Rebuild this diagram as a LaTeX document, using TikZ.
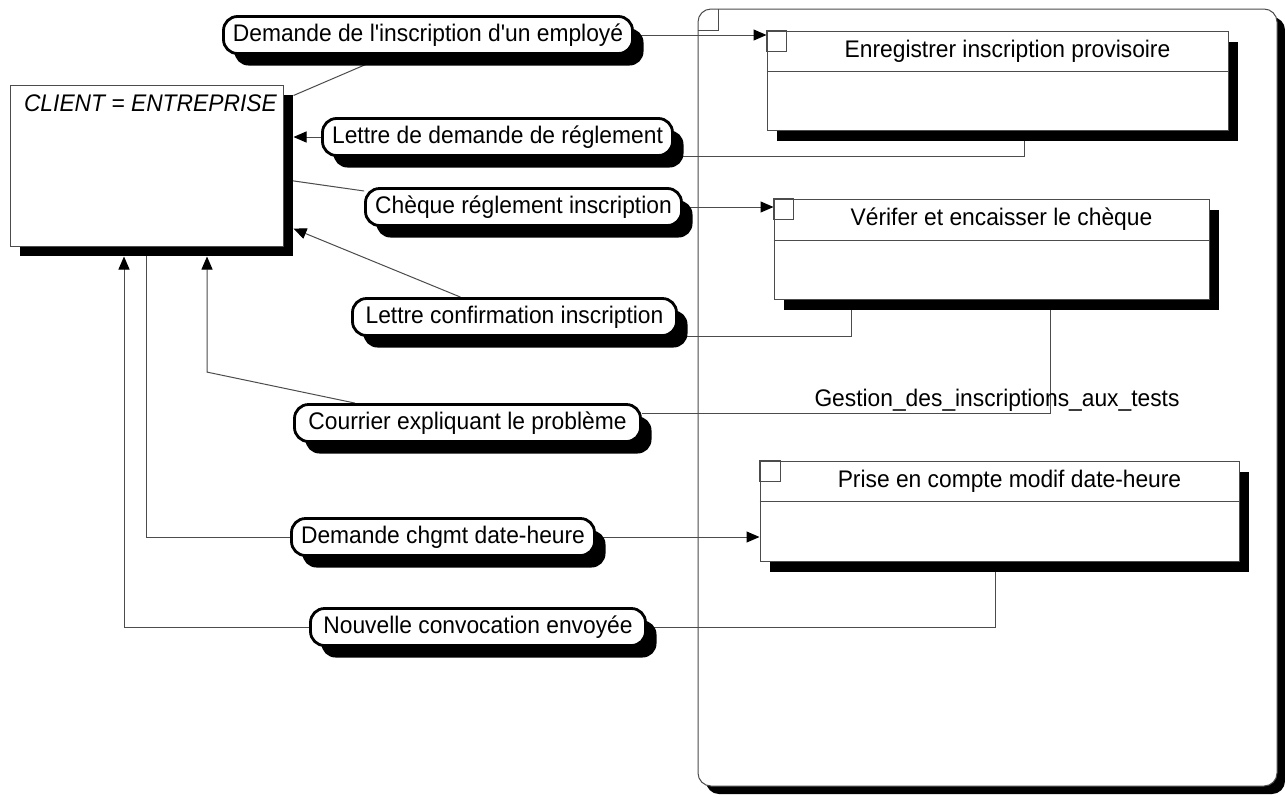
\documentclass[tikz,border=0pt]{standalone}
\usepackage{fontspec}
\setmainfont{Liberation Sans}[Ligatures=TeXOff, FakeStretch=0.95]
\usetikzlibrary{arrows.meta,shadows}
\pgfdeclarelayer{bg}
\pgfdeclarelayer{conn}
\pgfsetlayers{bg,conn,main}
\definecolor{edge}{gray}{0.3}

\tikzset{
  every node/.style={font=\fontsize{24}{28}\selectfont},
  conn/.style={draw=edge, line width=1pt},
  arr/.style={conn, -{Triangle[length=13pt,width=11pt,color=black]}},
  flow/.style={draw=black, line width=2.8pt, fill=white, rounded corners=14pt,
    minimum height=37pt, inner xsep=6pt, inner ysep=0pt,
    drop shadow={opacity=1, fill=black, shadow xshift=11pt, shadow yshift=-12pt}},
  procbox/.style={draw=edge, line width=1pt, fill=white, inner sep=0pt,
    drop shadow={opacity=1, fill=black, shadow xshift=10pt, shadow yshift=-11pt}},
  extbox/.style={draw=edge, line width=1pt, fill=white, inner sep=0pt,
    drop shadow={opacity=1, fill=black, shadow xshift=10pt, shadow yshift=-10pt}},
  container/.style={draw=edge, line width=1pt, fill=white, rounded corners=13pt, inner sep=0pt,
    drop shadow={opacity=1, fill=black, shadow xshift=8pt, shadow yshift=-8pt}},
  ptitle/.style={inner sep=0pt},
  part/.style={draw=edge, line width=1pt}
}

\begin{document}
\begin{tikzpicture}[x=1pt,y=-1pt]
\useasboundingbox (0,0) rectangle (1285,796);

% process container
\begin{pgfonlayer}{bg}
  \fill[white] (0,0) rectangle (1285,796);
  \node[container, minimum width=579pt, minimum height=777pt] (gest) at (987.5,397.5) {};
  \draw[part] ([yshift=-22pt]gest.north west) -| ([xshift=21pt]gest.north west);
\end{pgfonlayer}
\node (gestL) at (997,400) {Gestion\_des\_inscriptions\_aux\_tests};

% external actor
\node[extbox, minimum width=273pt, minimum height=161pt] (client) at (146.5,165.5) {};
\node[anchor=base west, font=\fontsize{24}{28}\selectfont\itshape] (clientT)
  at ([shift={(11pt,-27pt)}]client.north west) {CLIENT = ENTREPRISE};

% processes
\node[procbox, minimum width=461pt, minimum height=99pt] (enr) at (997.5,80.5) {};
\draw[part] ([yshift=-41pt]enr.north west) -- ([yshift=-41pt]enr.north east);
\draw[part] (enr.north west) rectangle ++(20,21);
\node[ptitle] (enrT) at ([shift={(10pt,-20.5pt)}]enr.north) {Enregistrer inscription provisoire};

\node[procbox, minimum width=435pt, minimum height=100pt] (verif) at (991.5,249) {};
\draw[part] ([yshift=-42pt]verif.north west) -- ([yshift=-42pt]verif.north east);
\draw[part] (verif.north west) rectangle ++(20,21);
\node[ptitle] (verifT) at ([shift={(10pt,-21pt)}]verif.north) {Vérifer et encaisser le chèque};

\node[procbox, minimum width=479pt, minimum height=100pt] (prise) at (999.5,511) {};
\draw[part] ([yshift=-41pt]prise.north west) -- ([yshift=-41pt]prise.north east);
\draw[part] (prise.north west) rectangle ++(21,21);
\node[ptitle] (priseT) at ([shift={(10pt,-20.5pt)}]prise.north) {Prise en compte modif date-heure};

% flows
\node[flow, minimum width=409pt] (demL) at (428,35) {Demande de l'inscription d'un employé};
\node[flow, minimum width=350pt] (lettreL) at (497.5,137) {Lettre de demande de réglement};
\node[flow, minimum width=316pt] (chequeL) at (523.5,207) {Chèque réglement inscription};
\node[flow, minimum width=324pt] (confL) at (514.5,317) {Lettre confirmation inscription};
\node[flow, minimum width=346pt] (courL) at (467.5,423) {Courrier expliquant le problème};
\node[flow, minimum width=303pt] (chgL) at (443,537) {Demande chgmt date-heure};
\node[flow, minimum width=335pt] (nouvL) at (478,627) {Nouvelle convocation envoyée};

% connectors
\begin{pgfonlayer}{conn}
  \draw[conn] ([shift={(10pt,-11pt)}]client.north east) -- ([xshift=166pt]demL.south west);
  \draw[arr] (demL.east) -- (demL.east -| enr.west);

  \draw[conn] (lettreL.south east) -| ([xshift=26.5pt]enr.south);
  \draw[arr, shorten >=10pt] (lettreL.west) -- (lettreL.west -| client.east);

  \draw[conn] ([yshift=-14pt]client.east) -- ([yshift=16pt]chequeL.west);
  \draw[arr] (chequeL.east) -- (chequeL.east -| verif.west);

  \draw[conn] (confL.south east) -| ([xshift=-140.5pt]verif.south);
  \draw[arr, shorten >=10.8pt] ([xshift=-54pt]confL.north) -- ([yshift=22pt]client.south east);

  \draw[conn] ([yshift=-10pt]courL.north east) -| ([xshift=58.5pt]verif.south);
  \draw[arr, shorten >=10pt] ([xshift=62pt]courL.north west) -- ++(-148,-31)
    -- ([xshift=60.5pt]client.south);

  \draw[conn] (chgL.west) -| (client.south);
  \draw[arr] (chgL.east) -- (chgL.east -| prise.west);

  \draw[conn] (nouvL.east) -| ([xshift=-4.5pt]prise.south);
  \draw[arr, shorten >=10pt] (nouvL.west) -| ([xshift=-22.5pt]client.south);
\end{pgfonlayer}
\end{tikzpicture}
\end{document}
